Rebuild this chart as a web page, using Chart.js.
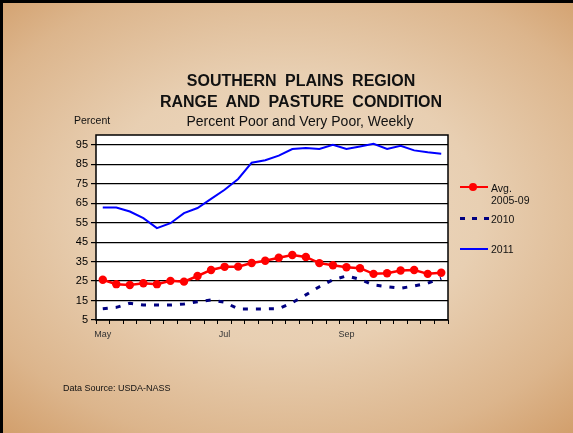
<!DOCTYPE html>
<html>
<head>
<meta charset="utf-8">
<script src="https://cdn.jsdelivr.net/npm/chart.js@4/dist/chart.umd.min.js"></script>
<style>
  html, body { margin: 0; padding: 0; }
  #wrap {
    position: relative; width: 573px; height: 433px; overflow: hidden;
    font-family: "Liberation Sans", Arial, sans-serif; color: #111;
    background: radial-gradient(ellipse 75% 70% at 50% 48%, #eedbc4 0%, #e8cfb2 45%, #dcb58c 80%, #d29f6c 100%);
    box-sizing: border-box; border-top: 3px solid #000; border-left: 3px solid #000;
  }
  canvas { position: absolute; left: -3px; top: -3px; }
  .t { position: absolute; white-space: nowrap; }
  .title { font-weight: bold; font-size: 16px; word-spacing: 4px; text-align: center; }
  .leg { position: absolute; font-size: 10.5px; line-height: 12px; }
</style>
</head>
<body>
<div id="wrap">
  <canvas id="c" width="573" height="433"></canvas>
  <div class="t title" style="left:0;width:596px;top:69px;">SOUTHERN PLAINS REGION</div>
  <div class="t title" style="left:0;width:596px;top:90px;">RANGE AND PASTURE CONDITION</div>
  <div class="t" style="left:0;width:594px;text-align:center;top:110px;font-size:14px;">Percent Poor and Very Poor, Weekly</div>
  <div class="t" style="left:71px;top:111px;font-size:10.5px;">Percent</div>
  <div class="t" style="left:60px;top:380px;font-size:9px;">Data Source: USDA-NASS</div>

  <div style="position:absolute;left:457px;top:183px;width:28px;height:2px;background:#ff0000;"></div>
  <div style="position:absolute;left:466px;top:180px;width:8px;height:8px;border-radius:50%;background:#ff0000;"></div>
  <div class="leg" style="left:488px;top:179px;">Avg.<br>2005-09</div>

  <div style="position:absolute;left:457px;top:214px;width:5px;height:3px;background:#000080;"></div>
  <div style="position:absolute;left:469px;top:214px;width:5px;height:3px;background:#000080;"></div>
  <div style="position:absolute;left:481px;top:214px;width:5px;height:3px;background:#000080;"></div>
  <div class="leg" style="left:488px;top:210px;">2010</div>

  <div style="position:absolute;left:457px;top:245px;width:28px;height:2px;background:#0000ff;"></div>
  <div class="leg" style="left:488px;top:240px;">2011</div>
</div>
<script>
const weeks = ['May','','','','','','','','','Jul','','','','','','','','','Sep','','','','','','',''];
const avg0509 = [25.7,23.4,23.0,23.9,23.4,25.1,24.7,27.6,30.7,32.3,32.4,34.3,35.4,37.0,38.4,37.4,34.2,33.1,32.1,31.6,28.7,29.0,30.4,30.7,28.7,29.3];
const y2010 = [10.8,11.5,13.6,12.7,12.7,12.7,13.2,14.4,15.3,14.1,10.7,10.7,10.7,10.8,13.9,17.9,22.1,25.6,27.6,25.9,23.0,22.1,21.3,22.5,23.9,26.4];
const y2011 = [62.8,62.8,60.7,57.3,52.2,54.7,59.9,62.5,67.2,71.9,77.4,85.8,87.0,89.4,92.8,93.3,92.8,95.0,92.8,94.1,95.5,92.8,94.5,92.1,91.1,90.4];
const yTicks = [5,15,25,35,45,55,65,75,85,95];

const frame = {
  id: 'frame',
  beforeDraw(chart) {
    const {ctx, chartArea: a} = chart;
    ctx.save();
    ctx.fillStyle = '#ffffff';
    ctx.fillRect(a.left, a.top, a.right - a.left, a.bottom - a.top);
    ctx.restore();
  },
  afterDatasetsDraw(chart) {
    const {ctx, chartArea: a} = chart;
    ctx.save();
    ctx.strokeStyle = '#000';
    ctx.lineWidth = 1.5;
    ctx.strokeRect(a.left, a.top, a.right - a.left, a.bottom - a.top);
    ctx.restore();
  }
};

new Chart(document.getElementById('c'), {
  type: 'line',
  data: {
    labels: weeks,
    datasets: [
      { label: 'Avg. 2005-09', data: avg0509, borderColor: '#ff0000', backgroundColor: '#ff0000',
        borderWidth: 2.5, pointRadius: 4.2, pointBorderWidth: 0, tension: 0 },
      { label: '2010', data: y2010, borderColor: '#000080', borderWidth: 3, borderDash: [5, 8],
        pointRadius: 0, tension: 0 },
      { label: '2011', data: y2011, borderColor: '#0000ff', borderWidth: 2, pointRadius: 0, tension: 0 }
    ]
  },
  options: {
    responsive: false,
    animation: false,
    events: [],
    layout: { padding: { top: 135, right: 125, bottom: 93, left: 0 } },
    plugins: { legend: { display: false }, title: { display: false }, tooltip: { enabled: false } },
    scales: {
      x: {
        offset: true,
        grid: { offset: true, drawOnChartArea: false, drawTicks: true, tickLength: 4, color: '#000', lineWidth: 1 },
        border: { display: false },
        ticks: { autoSkip: false, maxRotation: 0, minRotation: 0, padding: 5, color: '#333',
                 font: { family: 'Liberation Sans', size: 9 } },
        afterFit(s) { s.height = 20; }
      },
      y: {
        min: 5, max: 100,
        afterBuildTicks(s) { s.ticks = yTicks.map(v => ({ value: v })); },
        grid: { color: '#000', lineWidth: 1.2, tickLength: 5 },
        border: { display: false },
        ticks: { color: '#000', padding: 3, font: { family: 'Liberation Sans', size: 11 } },
        afterFit(s) { s.width = 96; }
      }
    }
  },
  plugins: [frame]
});
</script>
</body>
</html>
